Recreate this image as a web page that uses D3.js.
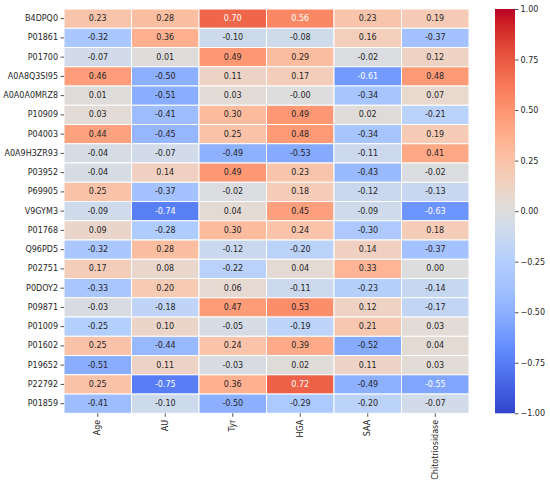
<!DOCTYPE html>
<html>
<head>
    <meta charset="UTF-8">
    <title>Correlation heatmap</title>
    <style>
        body {
            margin: 0;
            padding: 0;
            background-color: #ffffff;
            font-family: "DejaVu Sans", sans-serif;
        }
        .tick text {
            fill: #262626;
            font-size: 8px;
            font-family: "DejaVu Sans", sans-serif;
        }
        .tick line {
            stroke: #262626;
            stroke-width: 0.8px;
        }
        .annot {
            font-size: 8px;
            text-anchor: middle;
            dominant-baseline: central;
        }
    </style>
    <script src="https://d3js.org/d3.v7.min.js"></script>
</head>
<body>
    <div id="chart"></div>

    <script>
        // proteins (rows) and clinical variables (columns)
        var proteins = ["B4DPQ0", "P01861", "P01700", "A0A8Q3SI95", "A0A0A0MRZ8", "P10909", "P04003",
            "A0A9H3ZR93", "P03952", "P69905", "V9GYM3", "P01768", "Q96PD5", "P02751", "P0DOY2",
            "P09871", "P01009", "P01602", "P19652", "P22792", "P01859"];
        var variables = ["Age", "AU", "Tyr", "HGA", "SAA", "Chitotriosidase"];

        // one array per column, same order as proteins
        var ageValues = [0.23, -0.32, -0.07, 0.46, 0.01, 0.03, 0.44, -0.04, -0.04, 0.25, -0.09,
            0.09, -0.32, 0.17, -0.33, -0.03, -0.25, 0.25, -0.51, 0.25, -0.41];
        var auValues = [0.28, 0.36, 0.01, -0.50, -0.51, -0.41, -0.45, -0.07, 0.14, -0.37, -0.74,
            -0.28, 0.28, 0.08, 0.20, -0.18, 0.10, -0.44, 0.11, -0.75, -0.10];
        var tyrValues = [0.70, -0.10, 0.49, 0.11, 0.03, 0.30, 0.25, -0.49, 0.49, -0.02, 0.04,
            0.30, -0.12, -0.22, 0.06, 0.47, -0.05, 0.24, -0.03, 0.36, -0.50];
        var hgaValues = [0.56, -0.08, 0.29, 0.17, -0.00, 0.49, 0.48, -0.53, 0.23, 0.18, 0.45,
            0.24, -0.20, 0.04, -0.11, 0.53, -0.19, 0.39, 0.02, 0.72, -0.29];
        var saaValues = [0.23, 0.16, -0.02, -0.61, -0.34, 0.02, -0.34, -0.11, -0.43, -0.12, -0.09,
            -0.30, 0.14, 0.33, -0.23, 0.12, 0.21, -0.52, 0.11, -0.49, -0.20];
        var chitoValues = [0.19, -0.37, 0.12, 0.48, 0.07, -0.21, 0.19, 0.41, -0.02, -0.13, -0.63,
            0.18, -0.37, 0.00, -0.14, -0.17, 0.03, 0.04, 0.03, -0.55, -0.07];

        var colorbarTicks = [-1, -0.75, -0.5, -0.25, 0, 0.25, 0.5, 0.75, 1];

        var columns = [ageValues, auValues, tyrValues, hgaValues, saaValues, chitoValues];

        // matplotlib "coolwarm" control points (33 evenly spaced stops)
        var cwR = [0.2298, 0.2662, 0.3039, 0.3428, 0.3830, 0.4244, 0.4667, 0.5096, 0.5530, 0.5963,
            0.6392, 0.6813, 0.7222, 0.7615, 0.7987, 0.8335, 0.8654, 0.8978, 0.9241, 0.9445, 0.9589,
            0.9673, 0.9700, 0.9668, 0.9580, 0.9437, 0.9239, 0.8990, 0.8692, 0.8346, 0.7956, 0.7525, 0.7057];
        var cwG = [0.2987, 0.3531, 0.4065, 0.4588, 0.5094, 0.5581, 0.6046, 0.6483, 0.6889, 0.7261,
            0.7596, 0.7890, 0.8140, 0.8343, 0.8498, 0.8602, 0.8654, 0.8489, 0.8274, 0.8009, 0.7698,
            0.7341, 0.6943, 0.6504, 0.6028, 0.5518, 0.4973, 0.4396, 0.3783, 0.3129, 0.2413, 0.1572, 0.0156];
        var cwB = [0.7537, 0.8015, 0.8450, 0.8837, 0.9174, 0.9456, 0.9682, 0.9848, 0.9954, 0.9998,
            0.9982, 0.9904, 0.9766, 0.9569, 0.9317, 0.9011, 0.8654, 0.8209, 0.7745, 0.7267, 0.6780,
            0.6288, 0.5794, 0.5303, 0.4818, 0.4342, 0.3880, 0.3432, 0.3003, 0.2593, 0.2205, 0.1841, 0.1502];

        var coolwarmColors = cwR.map(function(r, i) {
            return d3.rgb(r * 255, cwG[i] * 255, cwB[i] * 255);
        });
        var coolwarm = d3.scaleLinear()
            .domain(d3.range(coolwarmColors.length).map(function(i) { return i / (coolwarmColors.length - 1); }))
            .range(coolwarmColors)
            .interpolate(d3.interpolateRgb);

        // the reference image is a bit punchier than plain coolwarm
        function punch(c) {
            var h = d3.hsl(c);
            h.s = Math.min(1, h.s * 1.15);
            return h.formatHex();
        }

        var color = d3.scaleLinear().domain([-1, 1]).range([0, 1]).clamp(true);
        function baseFill(v) { return coolwarm(color(v)); }
        function fill(v) { return punch(baseFill(v)); }

        // seaborn picks annotation colour from the luminance of the cell
        function luminance(c) {
            var rgb = d3.rgb(c);
            var lin = [rgb.r, rgb.g, rgb.b].map(function(v) {
                v = v / 255;
                return v <= 0.03928 ? v / 12.92 : Math.pow((v + 0.055) / 1.055, 2.4);
            });
            return 0.2126 * lin[0] + 0.7152 * lin[1] + 0.0722 * lin[2];
        }

        function annotText(v) {
            var neg = v < 0 || 1 / v < 0;
            return (neg ? "-" : "") + Math.abs(v).toFixed(2);
        }

        var width = 550, height = 485;
        var plotLeft = 64, plotRight = 469, plotTop = 9, plotBottom = 413.3;

        var svg = d3.select("#chart").append("svg")
            .attr("width", width)
            .attr("height", height)
            .style("display", "block");

        svg.append("rect").attr("width", width).attr("height", height).attr("fill", "#ffffff");

        var x = d3.scaleBand().domain(variables).range([plotLeft, plotRight]);
        var y = d3.scaleBand().domain(proteins).range([plotTop, plotBottom]);

        var cells = [];
        columns.forEach(function(col, j) {
            col.forEach(function(v, i) {
                cells.push({ row: proteins[i], col: variables[j], value: v });
            });
        });

        svg.selectAll(".cell")
            .data(cells)
            .enter().append("rect")
            .attr("class", "cell")
            .attr("x", function(d) { return x(d.col); })
            .attr("y", function(d) { return y(d.row); })
            .attr("width", x.bandwidth())
            .attr("height", y.bandwidth())
            .attr("fill", function(d) { return fill(d.value); })
            .attr("stroke", "#ffffff")
            .attr("stroke-width", 1);

        svg.selectAll(".annot")
            .data(cells)
            .enter().append("text")
            .attr("class", "annot")
            .attr("x", function(d) { return x(d.col) + x.bandwidth() / 2; })
            .attr("y", function(d) { return y(d.row) + y.bandwidth() / 2; })
            .attr("fill", function(d) { return luminance(baseFill(d.value)) > 0.408 ? "#262626" : "#ffffff"; })
            .text(function(d) { return annotText(d.value); });

        // row labels
        var yAxis = svg.append("g")
            .attr("transform", "translate(" + plotLeft + ",0)")
            .call(d3.axisLeft(y).tickSize(3.5).tickPadding(2.5));
        yAxis.select(".domain").remove();

        // column labels, rotated
        var xAxis = svg.append("g")
            .attr("transform", "translate(0," + plotBottom + ")")
            .call(d3.axisBottom(x).tickSize(3.5).tickPadding(3));
        xAxis.select(".domain").remove();
        xAxis.selectAll("text")
            .attr("transform", "rotate(-90)")
            .attr("text-anchor", "end")
            .attr("x", -6.5)
            .attr("y", 0)
            .attr("dy", "0.32em");

        // colorbar
        var cbLeft = 495, cbWidth = 20;
        var cbScale = d3.scaleLinear().domain([-1, 1]).range([plotBottom, plotTop]);

        var grad = svg.append("defs").append("linearGradient")
            .attr("id", "cbgrad")
            .attr("x1", 0).attr("y1", 1).attr("x2", 0).attr("y2", 0);
        grad.selectAll("stop")
            .data(coolwarmColors)
            .enter().append("stop")
            .attr("offset", function(d, i) { return i / (coolwarmColors.length - 1); })
            .attr("stop-color", function(d) { return punch(d); });

        svg.append("rect")
            .attr("x", cbLeft)
            .attr("y", plotTop)
            .attr("width", cbWidth)
            .attr("height", plotBottom - plotTop)
            .attr("fill", "url(#cbgrad)");

        var cbAxis = svg.append("g")
            .attr("transform", "translate(" + (cbLeft + cbWidth) + ",0)")
            .call(d3.axisRight(cbScale).tickValues(colorbarTicks).tickSize(3.5).tickPadding(2).tickFormat(d3.format(".2f")));
        cbAxis.select(".domain").remove();
    </script>
</body>
</html>
